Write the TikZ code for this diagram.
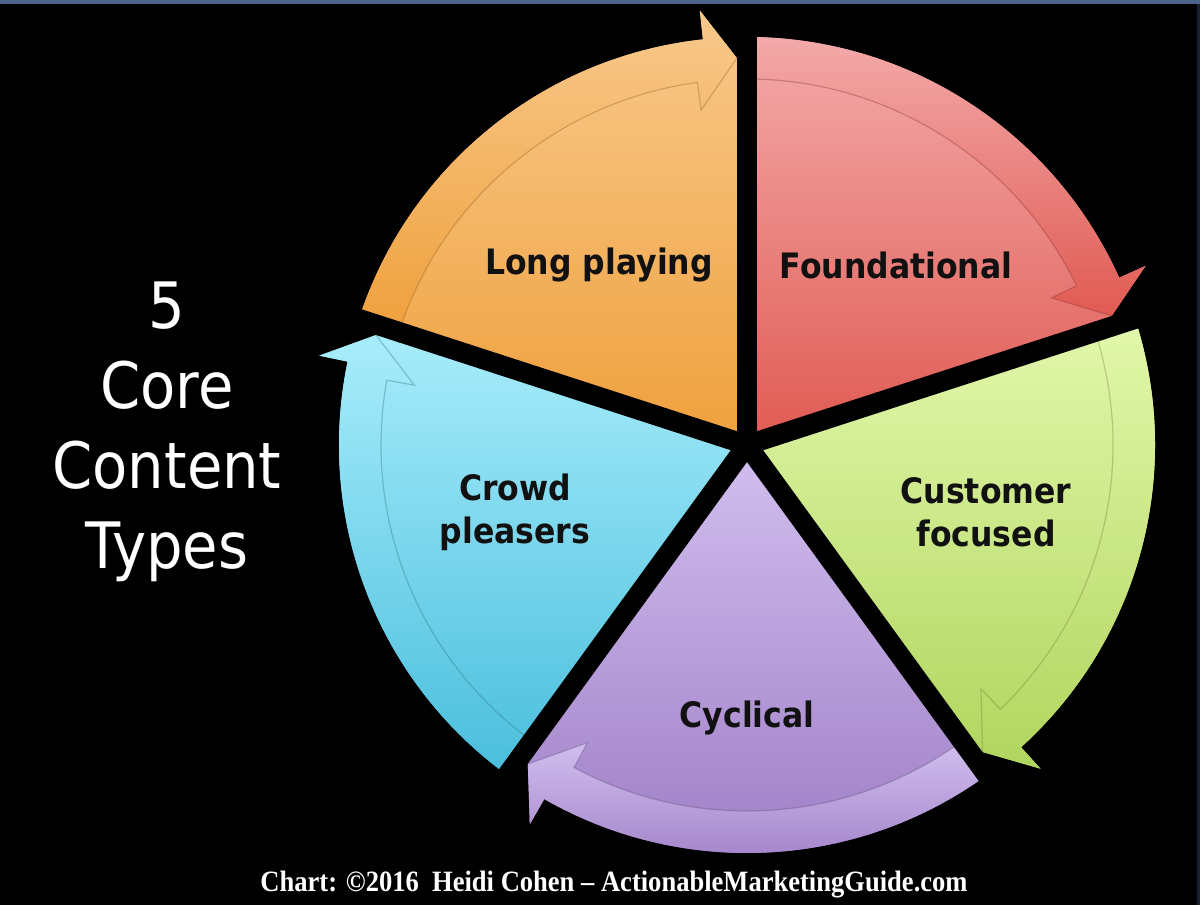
\documentclass[tikz,border=0pt]{standalone}
\usepackage{fontspec}
\setmainfont{DejaVu Sans}
\newfontfamily\labfont[FakeStretch=0.9]{DejaVu Sans}
\newfontfamily\credfont[FakeStretch=0.9]{Liberation Serif}
\definecolor{topbar}{HTML}{4C6489}
\definecolor{sidebar}{HTML}{16222E}
\definecolor{orT}{HTML}{F8C98C}
\definecolor{orB}{HTML}{EFA03C}
\definecolor{rdT}{HTML}{F3AAAA}
\definecolor{rdB}{HTML}{E05A52}
\definecolor{grT}{HTML}{E3F8AC}
\definecolor{grB}{HTML}{B0D55E}
\definecolor{puT}{HTML}{D2BFEF}
\definecolor{puB}{HTML}{9C7BC4}
\definecolor{blT}{HTML}{A9EDFB}
\definecolor{blB}{HTML}{49BEDC}
\definecolor{labtext}{HTML}{111111}
\tikzset{
  gapline/.style={black, line width=20pt},
  seglabel/.style={text=labtext, font=\labfont\bfseries\fontsize{35}{43}\selectfont, align=center},
  sidetext/.style={text=white, font=\labfont\fontsize{64}{80}\selectfont, align=center},
  credit/.style={text=white, font=\credfont\bfseries\fontsize{29.5}{32}\selectfont}
}
\newcommand\cycseg[3]{%
  \pgfmathsetmacro\segend{#1-72}%
  \path[top color=#2, bottom color=#3]
    (0,0) -- (#1:408) arc[start angle=#1, end angle=\segend+6.2, radius=408]
    -- (\segend+6.2:437) -- (\segend+1.5:387) -- (\segend:387) -- cycle;
  \path[top color=#2, bottom color=#3]
    (#1:366) -- (#1:408) arc[start angle=#1, end angle=\segend+6.2, radius=408]
    -- (\segend+6.2:437) -- (\segend+1.5:387) -- (\segend+7.8:338) -- (\segend+7.8:366)
    arc[start angle=\segend+7.8, end angle=#1, radius=366] -- cycle;
  \draw[#3!60!black, opacity=.35, line width=1.2pt]
    (#1:366) arc[start angle=#1, end angle=\segend+7.8, radius=366]
    -- (\segend+7.8:338) -- (\segend+1.5:387);
}
\begin{document}
\begin{tikzpicture}[x=1pt,y=1pt]
\useasboundingbox (0,0) rectangle (1200,905);
\fill[black] (0,0) rectangle (1200,905);
\fill[topbar] (0,901) rectangle (1200,905);
\fill[sidebar] (1197,0) rectangle (1200,901);
\begin{scope}[shift={(747,460)}]
  \cycseg{162}{orT}{orB}
  \cycseg{90}{rdT}{rdB}
  \cycseg{18}{grT}{grB}
  \cycseg{-54}{puT}{puB}
  \cycseg{-126}{blT}{blB}
  \foreach \a in {90,18,-54,-126,162} \draw[gapline] (0,0) -- (\a:438);
  \node[seglabel] (longplaying) at (-148,180) {Long playing};
  \node[seglabel] (foundational) at (149,180) {Foundational};
  \node[seglabel] (customer) at (239,-67) {Customer\\focused};
  \node[seglabel] (cyclical) at (0,-273) {Cyclical};
  \node[seglabel] (crowd) at (-232,-67) {Crowd\\pleasers};
  \node[sidetext] (title) at (-580,13) {5\\Core\\Content\\Types};
  \node[credit] (credit) at (-133,-440) {Chart: \textcopyright2016\ \ Heidi Cohen – ActionableMarketingGuide.com};
\end{scope}
\end{tikzpicture}
\end{document}
